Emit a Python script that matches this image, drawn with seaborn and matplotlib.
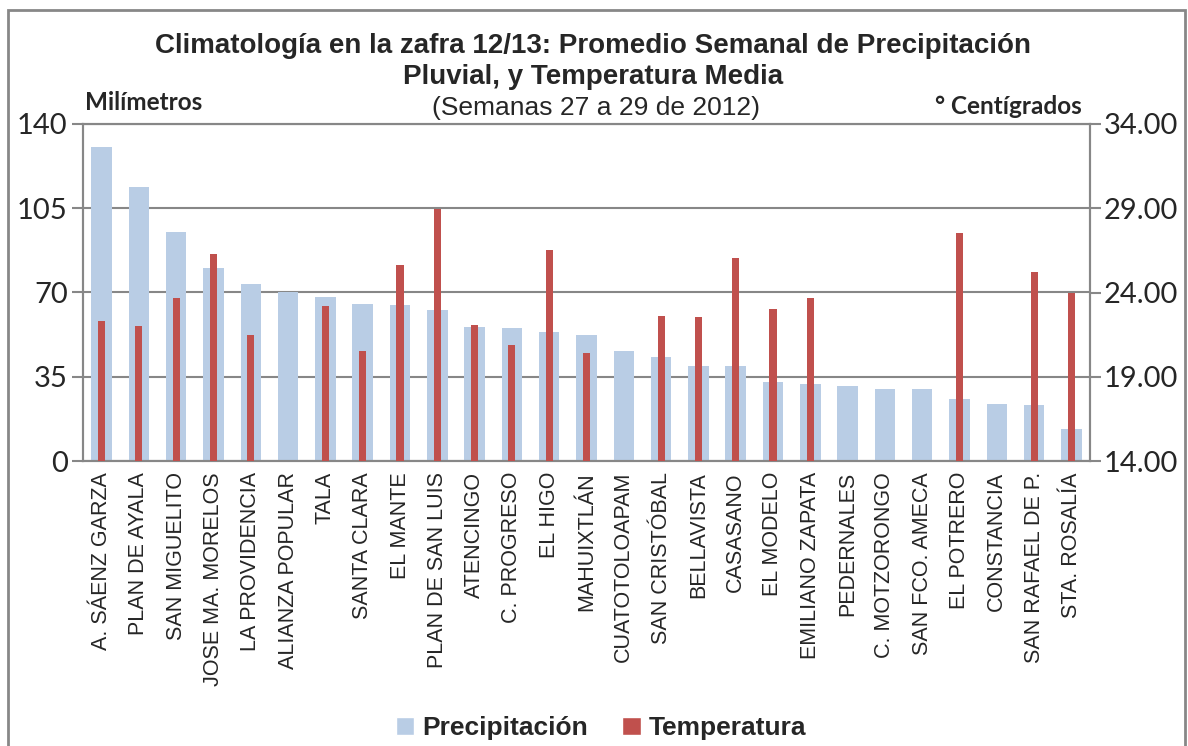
import matplotlib
matplotlib.use("Agg")
import matplotlib.pyplot as plt
import seaborn as sns
import numpy as np
import pandas as pd
from matplotlib.patches import Rectangle, Patch

# Ingenios (categorias)
ingenios = ["A. SÁENZ GARZA", "PLAN DE AYALA", "SAN MIGUELITO", "JOSE MA. MORELOS",
            "LA PROVIDENCIA", "ALIANZA POPULAR", "TALA", "SANTA CLARA", "EL MANTE",
            "PLAN DE SAN LUIS", "ATENCINGO", "C. PROGRESO", "EL HIGO", "MAHUIXTLÁN",
            "CUATOTOLOAPAM", "SAN CRISTÓBAL", "BELLAVISTA", "CASASANO", "EL MODELO",
            "EMILIANO ZAPATA", "PEDERNALES", "C. MOTZORONGO", "SAN FCO. AMECA",
            "EL POTRERO", "CONSTANCIA", "SAN RAFAEL DE P.", "STA. ROSALÍA"]

# precipitacion promedio semanal (mm)
precipitacion = [130.6, 114.0, 95.3, 80.2, 73.4, 70.1, 68.0, 65.1, 64.9, 62.7,
                 55.8, 55.1, 53.6, 52.2, 45.8, 43.3, 39.6, 39.5, 32.8, 32.0,
                 31.0, 30.0, 29.8, 25.9, 23.5, 23.3, 13.2]

# temperatura media (°C), NaN = sin dato
temperatura = [22.3, 22.0, 23.65, 26.3, 21.45, np.nan, 23.2, 20.5, 25.65, 28.95,
               22.1, 20.9, 26.5, 20.4, np.nan, 22.6, 22.55, 26.05, 23.05, 23.7,
               np.nan, np.nan, np.nan, 27.55, np.nan, 25.2, 23.95]

left_ticks = [0, 35, 70, 105, 140]
right_ticks = [14, 19, 24, 29, 34]

df = pd.DataFrame({"ingenio": ingenios, "precip": precipitacion, "temp": temperatura})

sns.set_style("white")
plt.rcParams["font.family"] = ["Liberation Sans", "DejaVu Sans"]

azul = "#B9CDE5"
rojo = "#C0504D"
gris = "#878787"

fig = plt.figure(figsize=(11.88, 7.46), dpi=100)
ax = fig.add_axes([83 / 1188, 1 - 461 / 746, (1090 - 83) / 1188, (461 - 124) / 746])

sns.barplot(data=df, x="ingenio", y="precip", order=ingenios, color=azul,
            width=0.55, ax=ax, zorder=2, linewidth=0, edgecolor="none", saturation=1)
ax.set_ylim(0, 140)
ax.set_yticks(left_ticks)
ax.set_xlim(-0.5, len(ingenios) - 0.5)
ax.set_axisbelow(True)
ax.yaxis.grid(True, color=gris, linewidth=1.5)
ax.xaxis.grid(False)

ax2 = ax.twinx()
sns.barplot(data=df, x="ingenio", y="temp", order=ingenios, color=rojo,
            width=0.19, ax=ax2, zorder=3, linewidth=0, edgecolor="none", saturation=1)
ax2.set_ylim(14, 34)
ax2.set_yticks(right_ticks)
ax2.set_yticklabels([f"{t:.2f}" for t in right_ticks])
ax2.set_xlim(-0.5, len(ingenios) - 0.5)

for a in (ax, ax2):
    a.set_xlabel("")
    a.set_ylabel("")
    for s in a.spines.values():
        s.set_color(gris)
        s.set_linewidth(1.5)

ax.tick_params(axis="y", direction="out", length=8, width=1.5, color=gris,
               labelsize=21, pad=3)
ax2.tick_params(axis="y", direction="out", length=8, width=1.5, color=gris,
                labelsize=21, pad=2)
for lbl in ax.get_yticklabels() + ax2.get_yticklabels():
    lbl.set_family(["Lato", "DejaVu Sans"])

ax.set_xticks(range(len(ingenios)))
ax.set_xticklabels(ingenios, rotation=90, fontsize=15.5)
ax.set_xticks(np.arange(-0.5, len(ingenios), 1), minor=True)
ax.tick_params(axis="x", which="major", length=0, pad=8)
ax.tick_params(axis="x", which="minor", direction="out", length=7, width=1.5, color=gris)
ax2.tick_params(axis="x", which="both", length=0, labelbottom=False)

# titulos
fig.text(0.499, 1 - 46 / 746, "Climatología en la zafra 12/13: Promedio Semanal de Precipitación",
         ha="center", va="center", fontsize=20, fontweight="bold")
fig.text(0.499, 1 - 77 / 746, "Pluvial, y Temperatura Media",
         ha="center", va="center", fontsize=20, fontweight="bold")
fig.text(0.502, 1 - 108 / 746, "(Semanas 27 a 29 de 2012)",
         ha="center", va="center", fontsize=19)
fig.text(85 / 1188, 1 - 103 / 746, "Milímetros", ha="left", va="center",
         fontsize=17.5, fontweight="bold", family=["Lato", "DejaVu Sans"])
fig.text(1082 / 1188, 1 - 107 / 746, "° Centígrados", ha="right", va="center",
         fontsize=17.5, fontweight="bold", family=["Lato", "DejaVu Sans"])

# leyenda
handles = [Patch(facecolor=azul, label="Precipitación"),
           Patch(facecolor=rojo, label="Temperatura")]
fig.legend(handles=handles, loc="center", bbox_to_anchor=(0.506, 1 - 728 / 746), ncol=2,
           frameon=False, prop={"weight": "bold", "size": 19}, handlelength=0.7,
           handleheight=0.7, handletextpad=0.3, columnspacing=1.3)

# borde del grafico
fig.patches.append(Rectangle((8 / 1188, -0.05), (1185 - 8) / 1188, 1.05 - 10 / 746,
                             transform=fig.transFigure, fill=False, edgecolor=gris,
                             linewidth=2, figure=fig))

fig.savefig("out.png", dpi=100)
